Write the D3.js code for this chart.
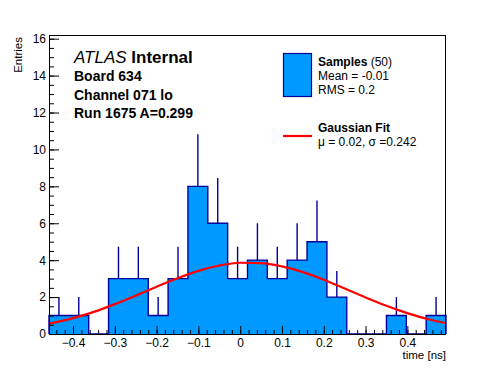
<!DOCTYPE html>
<html>
<head>
<meta charset="utf-8">
<script src="https://cdn.jsdelivr.net/npm/d3@7"></script>
<style>
  body { margin: 0; background: #fff; }
  svg { display: block; font-family: "Liberation Sans", Arial, Helvetica, sans-serif; }
</style>
</head>
<body>
<div id="chart"></div>
<script>
// histogram: 20 bins of 0.0475 starting at -0.4575
const binStart = -0.4575;
const binWidth = 0.0475;
const binCounts = [1, 1, 0, 3, 3, 1, 3, 8, 6, 3, 4, 3, 4, 5, 2, 0, 0, 1, 0, 1];

// gaussian fit
const fitX = [-0.4575, -0.40, -0.35, -0.30, -0.25, -0.20, -0.15, -0.10, -0.05, 0.00,
              0.05, 0.10, 0.15, 0.20, 0.25, 0.30, 0.35, 0.40, 0.45, 0.4925];
const fitY = [0.56, 0.86, 1.20, 1.62, 2.08, 2.56, 3.02, 3.42, 3.71, 3.86,
              3.84, 3.66, 3.35, 2.94, 2.46, 1.98, 1.53, 1.13, 0.80, 0.58];

const xTicks = [-0.4, -0.3, -0.2, -0.1, 0, 0.1, 0.2, 0.3, 0.4];
const yTicks = [0, 2, 4, 6, 8, 10, 12, 14, 16];

const labelLines = ["Board 634", "Channel 071 lo", "Run 1675 A=0.299"];
const legendSamples = ["Mean = -0.01", "RMS = 0.2"];
const legendFit = "\u03bc = 0.02, \u03c3 =0.242";

const width = 496, height = 372;
const mLeft = 49, mRight = 446, mTop = 35, mBottom = 334;
const fillBlue = "#0099ff", navy = "#000099";

const svg = d3.select("#chart").append("svg")
  .attr("width", width)
  .attr("height", height);

const x = d3.scaleLinear()
  .domain([binStart, binStart + binWidth * binCounts.length])
  .range([mLeft, mRight]);

const y = d3.scaleLinear()
  .domain([0, 16.2])
  .range([mBottom, mTop]);

const bins = binCounts.map((c, i) => ({
  x0: binStart + i * binWidth,
  x1: binStart + (i + 1) * binWidth,
  n: c
}));

// error bars (lower half hidden under the fill, like ROOT)
svg.append("g").selectAll("line")
  .data(bins.filter(d => d.n > 0))
  .enter()
  .append("line")
  .attr("x1", d => x((d.x0 + d.x1) / 2))
  .attr("x2", d => x((d.x0 + d.x1) / 2))
  .attr("y1", d => y(Math.max(0, d.n - Math.sqrt(d.n))))
  .attr("y2", d => y(d.n + Math.sqrt(d.n)))
  .attr("stroke", navy)
  .attr("stroke-width", 1.4);

// stepped histogram
const steps = [[x(bins[0].x0), y(0)]];
bins.forEach(d => {
  steps.push([x(d.x0), y(d.n)]);
  steps.push([x(d.x1), y(d.n)]);
});
steps.push([x(bins[bins.length - 1].x1), y(0)]);

svg.append("path")
  .attr("d", d3.line()(steps) + "Z")
  .attr("fill", fillBlue)
  .attr("stroke", "none");

svg.append("path")
  .attr("d", d3.line()(steps))
  .attr("fill", "none")
  .attr("stroke", navy)
  .attr("stroke-width", 1.4);

// fit curve
const fitLine = d3.line()
  .x((d, i) => x(d))
  .y((d, i) => y(fitY[i]))
  .curve(d3.curveMonotoneX);

svg.append("path")
  .attr("d", fitLine(fitX))
  .attr("fill", "none")
  .attr("stroke", "#ff0000")
  .attr("stroke-width", 2.2);

// axes: ticks point inward
const minorX = d3.range(-22, 25).map(k => k * 0.02).filter(v => v >= binStart && v <= 0.4925);
const minorY = d3.range(0, 33).map(k => k * 0.5);

svg.append("g")
  .attr("transform", "translate(0," + mBottom + ")")
  .call(d3.axisBottom(x).tickValues(minorX).tickSize(-4).tickFormat(""))
  .call(g => g.select(".domain").remove());

svg.append("g")
  .attr("transform", "translate(0," + mBottom + ")")
  .call(d3.axisBottom(x).tickValues(xTicks).tickSize(-8).tickPadding(4)
    .tickFormat(d => d === 0 ? "0" : d3.format(".1f")(d).replace("-", "\u2212")))
  .call(g => g.select(".domain").remove())
  .call(g => g.selectAll("text").attr("font-size", 12).attr("fill", "#000")
    .attr("font-family", "Liberation Sans, Arial, sans-serif"));

svg.append("g")
  .attr("transform", "translate(" + mLeft + ",0)")
  .call(d3.axisLeft(y).tickValues(minorY).tickSize(-5).tickFormat(""))
  .call(g => g.select(".domain").remove());

svg.append("g")
  .attr("transform", "translate(" + mLeft + ",0)")
  .call(d3.axisLeft(y).tickValues(yTicks).tickSize(-10).tickPadding(3))
  .call(g => g.select(".domain").remove())
  .call(g => g.selectAll("text").attr("font-size", 12).attr("fill", "#000")
    .attr("font-family", "Liberation Sans, Arial, sans-serif"));

svg.selectAll(".tick line").attr("stroke", "#000");

// frame
svg.append("rect")
  .attr("x", mLeft + 0.5)
  .attr("y", mTop + 0.5)
  .attr("width", mRight - mLeft - 1)
  .attr("height", mBottom - mTop)
  .attr("fill", "none")
  .attr("stroke", "#000");

// axis titles
svg.append("text")
  .attr("transform", "translate(22," + (mTop + 2) + ") rotate(-90)")
  .attr("text-anchor", "end")
  .attr("font-size", 11.5)
  .text("Entries");

svg.append("text")
  .attr("x", mRight)
  .attr("y", 359)
  .attr("text-anchor", "end")
  .attr("font-size", 11.5)
  .text("time [ns]");

// ATLAS label block
const atlas = svg.append("text")
  .attr("x", 74)
  .attr("y", 63)
  .attr("font-size", 17);
atlas.append("tspan").attr("font-style", "italic").text("ATLAS");
atlas.append("tspan").attr("font-weight", "bold").text(" Internal");

svg.append("g").selectAll("text")
  .data(labelLines)
  .enter()
  .append("text")
  .attr("x", 74)
  .attr("y", (d, i) => 81 + i * 18.7)
  .attr("font-size", 14)
  .attr("font-weight", "bold")
  .text(d => d);

// legend
svg.append("rect")
  .attr("x", 283.5)
  .attr("y", 53.5)
  .attr("width", 28)
  .attr("height", 43)
  .attr("fill", fillBlue)
  .attr("stroke", navy)
  .attr("stroke-width", 1.2);

const sTitle = svg.append("text")
  .attr("x", 318)
  .attr("y", 66)
  .attr("font-size", 12);
sTitle.append("tspan").attr("font-weight", "bold").text("Samples");
sTitle.append("tspan").text(" (50)");

svg.append("g").selectAll("text")
  .data(legendSamples)
  .enter()
  .append("text")
  .attr("x", 318)
  .attr("y", (d, i) => 80 + i * 13.5)
  .attr("font-size", 12)
  .text(d => d);

svg.append("line")
  .attr("x1", 283)
  .attr("x2", 312)
  .attr("y1", 136)
  .attr("y2", 136)
  .attr("stroke", "#ff0000")
  .attr("stroke-width", 2.2);

svg.append("text")
  .attr("x", 318)
  .attr("y", 132)
  .attr("font-size", 12)
  .attr("font-weight", "bold")
  .text("Gaussian Fit");

svg.append("text")
  .attr("x", 318)
  .attr("y", 145.5)
  .attr("font-size", 12)
  .text(legendFit);
</script>
</body>
</html>
